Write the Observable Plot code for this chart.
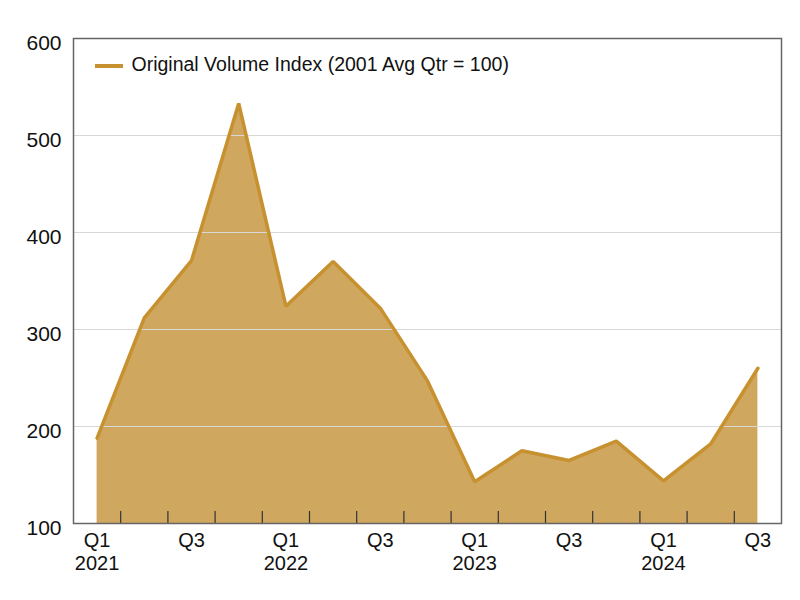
<!DOCTYPE html>
<html>
<head>
<meta charset="utf-8">
<script src="https://cdn.jsdelivr.net/npm/d3@7"></script>
<script src="https://cdn.jsdelivr.net/npm/@observablehq/plot@0.6"></script>
<style>
  body { margin: 0; background: #fff; }
  #chart { width: 800px; height: 600px; }
</style>
</head>
<body>
<div id="chart"></div>
<script>
const quarters = ["Q1 2021","Q2 2021","Q3 2021","Q4 2021","Q1 2022","Q2 2022","Q3 2022","Q4 2022","Q1 2023","Q2 2023","Q3 2023","Q4 2023","Q1 2024","Q2 2024","Q3 2024"];
const values = [188, 312, 371, 533, 324, 370, 322, 247, 143, 175, 165, 185, 144, 182, 260];
const xTickLabels = ["Q1\n2021","Q3","Q1\n2022","Q3","Q1\n2023","Q3","Q1\n2024","Q3"];
const yTicks = [100, 200, 300, 400, 500, 600];
const gridValues = [200, 300, 400, 500];
const seriesName = "Original Volume Index (2001 Avg Qtr = 100)";

const data = quarters.map((q, i) => ({i, q, v: values[i]}));
const labelPos = xTickLabels.map((t, k) => ({i: k * 2, t}));
const tickPos = quarters.slice(1).map((q, k) => k + 0.5);

const stroke = "#C8912F";
const fill = "#CFA75F";
const font = "'Liberation Sans', Arial, Helvetica, sans-serif";

const plot = Plot.plot({
  width: 800,
  height: 600,
  marginLeft: 73,
  marginRight: 19,
  marginTop: 38,
  marginBottom: 77,
  style: {fontFamily: font, background: "#fff"},
  x: {domain: [-0.5, quarters.length - 0.5], axis: null},
  y: {domain: [100, 600], axis: null},
  marks: [
    Plot.areaY(data, {x: "i", y1: 100, y2: "v", fill: fill}),
    Plot.ruleY(gridValues, {stroke: "#d8d8d8", strokeWidth: 1.2}),
    Plot.line(data, {x: "i", y: "v", stroke: stroke, strokeWidth: 3.5, strokeLinejoin: "miter"}),
    Plot.ruleX(tickPos, {stroke: "#333", strokeWidth: 1.2, insetTop: 473}),
    Plot.frame({stroke: "#666", strokeWidth: 1.5}),
    Plot.text(yTicks, {x: -0.5, y: d => d, text: d => String(d), textAnchor: "end", dx: -12, dy: 5, fontSize: 21, fill: "#111"}),
    Plot.text(labelPos, {x: "i", text: "t", frameAnchor: "bottom", lineAnchor: "top", dy: 8, fontSize: 20, lineHeight: 1.12, fill: "#111"}),
    Plot.text([seriesName], {frameAnchor: "top-left", text: d => d, dx: 58, dy: 19, lineAnchor: "top", fontSize: 19.5, fill: "#111"})
  ]
});

// legend swatch
d3.select(plot).append("line")
  .attr("x1", 95).attr("x2", 123).attr("y1", 66).attr("y2", 66)
  .attr("stroke", stroke).attr("stroke-width", 4);

document.getElementById("chart").appendChild(plot);
</script>
</body>
</html>
